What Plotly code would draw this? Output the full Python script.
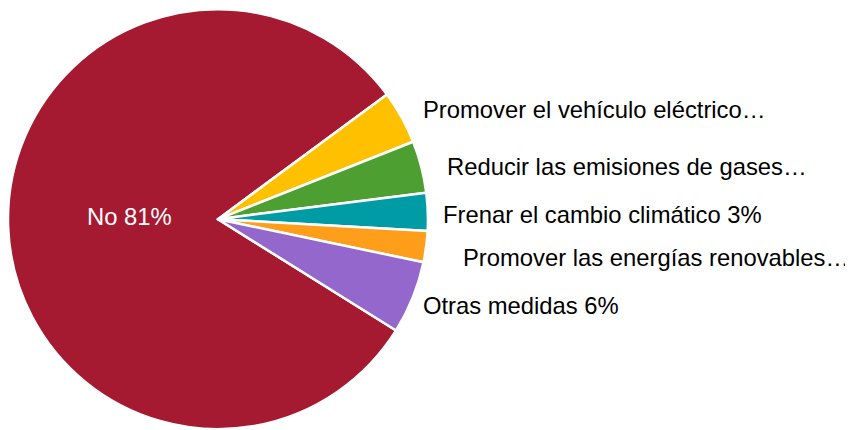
import plotly.graph_objects as go

# slices, clockwise starting with "No"
labels = [
    "No",
    "Promover el vehículo eléctrico",
    "Reducir las emisiones de gases",
    "Frenar el cambio climático",
    "Promover las energías renovables",
    "Otras medidas",
]
values = [81.0, 4.1, 4.0, 2.9, 2.4, 5.6]
label_texts = [
    "No 81%",
    "Promover el vehículo eléctrico…",
    "Reducir las emisiones de gases…",
    "Frenar el cambio climático 3%",
    "Promover las energías renovables…",
    "Otras medidas 6%",
]
colors = ["#A51A30", "#FFC000", "#4E9F32", "#009CA6", "#FF9E1B", "#9467CC"]

# label anchor points in figure pixels (x, vertical centre)
label_px = [(121, 208), (413, 101.5), (437, 158), (433, 206), (453, 249), (413, 297)]
label_color = ["white", "black", "black", "black", "black", "black"]
label_anchor = ["center", "left", "left", "left", "left", "left"]

# the page body adds an 8px margin, so the figure is drawn a bit smaller
W, H = 845, 422
FONT = "Liberation Sans, Arial, sans-serif"

fig = go.Figure()

fig.add_trace(go.Pie(
    labels=labels,
    values=values,
    sort=False,
    direction="clockwise",
    rotation=122,
    marker=dict(colors=colors, line=dict(color="white", width=2.5)),
    textinfo="none",
    domain=dict(x=[0.0, 0.497], y=[0.0019, 0.9972]),
    hoverinfo="label+percent",
))

annotations = []
for txt, pos, col, anc in zip(label_texts, label_px, label_color, label_anchor):
    annotations.append(dict(
        x=pos[0] / W, y=1 - pos[1] / H,
        xref="paper", yref="paper",
        xanchor=anc, yanchor="middle",
        text=txt, showarrow=False,
        font=dict(family=FONT, size=23.8, color=col),
    ))

fig.update_layout(
    width=W, height=H,
    margin=dict(l=0, r=0, t=0, b=0),
    showlegend=False,
    paper_bgcolor="white",
    annotations=annotations,
)

fig.write_html("out.html")
